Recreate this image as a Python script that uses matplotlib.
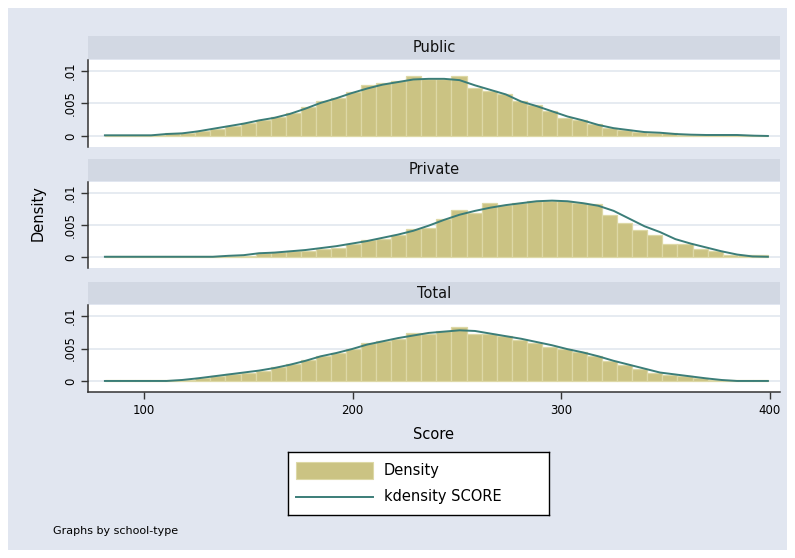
import numpy as np
import matplotlib
matplotlib.use("Agg")
import matplotlib.pyplot as plt
from matplotlib.patches import Rectangle

plt.rcParams['font.family'] = ['DejaVu Sans']

# ---------------- data ----------------
panels = ["Public", "Private", "Total"]
score_min = 81.3
score_max = 399.0
n_bins = 44

public_hist = [0.00015, 0.0001, 0.0001, 0.0001, 0.0004, 0.0004, 0.0007, 0.0011, 0.0015, 0.002,
               0.0025, 0.0029, 0.0036, 0.0044, 0.0054, 0.0059, 0.0067, 0.0079, 0.0082, 0.0085,
               0.0092, 0.0088, 0.0088, 0.0092, 0.0074, 0.007, 0.0064, 0.0054, 0.0047, 0.0039,
               0.0027, 0.0024, 0.0018, 0.0012, 0.0009, 0.0006, 0.0005, 0.0004, 0.0002, 0.0002,
               0.0002, 0.0002, 0.0001, 0.00005]
public_kde = [0.0001, 0.0001, 0.0001, 0.0001, 0.0003, 0.0004, 0.0007, 0.0011, 0.0015, 0.0019,
              0.0024, 0.0028, 0.0034, 0.0042, 0.0051, 0.0058, 0.0066, 0.0073, 0.0079, 0.0083,
              0.0087, 0.0088, 0.0088, 0.0086, 0.0078, 0.0071, 0.0064, 0.0053, 0.0046, 0.0038,
              0.003, 0.0024, 0.0017, 0.0012, 0.0009, 0.0006, 0.0005, 0.0003, 0.0002, 0.00015,
              0.00015, 0.00015, 0.00005, 0.0]

private_hist = [0.00015, 0.00015, 0.00015, 0.00015, 0.00015, 0.00015, 0.00015, 0.00015, 0.00015, 0.00015,
                0.0007, 0.0008, 0.001, 0.001, 0.0013, 0.0014, 0.002, 0.0026, 0.0028, 0.0035,
                0.0044, 0.0046, 0.006, 0.0073, 0.0068, 0.0084, 0.0081, 0.0085, 0.0087, 0.0088,
                0.0087, 0.0084, 0.0082, 0.0066, 0.0053, 0.0042, 0.0035, 0.0021, 0.002, 0.0013,
                0.001, 0.0003, 0.0003, 0.0003]
private_kde = [0.00005, 0.00005, 0.00005, 0.00005, 0.00005, 0.00005, 0.00005, 0.00005, 0.0002, 0.0003,
               0.0006, 0.0007, 0.0009, 0.0011, 0.0014, 0.0017, 0.0021, 0.0025, 0.003, 0.0035,
               0.0041, 0.0049, 0.0058, 0.0066, 0.0072, 0.0077, 0.0081, 0.0084, 0.0087, 0.0088,
               0.0087, 0.0084, 0.008, 0.0072, 0.006, 0.0048, 0.0039, 0.0028, 0.0021, 0.0015,
               0.0009, 0.0004, 0.0001, 0.00005]

total_hist = [0.0002, 0.0002, 0.0002, 0.0002, 0.00015, 0.00015, 0.0005, 0.0007, 0.0011, 0.0013,
              0.0016, 0.0021, 0.0026, 0.0032, 0.0039, 0.0043, 0.0049, 0.0058, 0.0061, 0.0065,
              0.0074, 0.0073, 0.0077, 0.0083, 0.0073, 0.0072, 0.0069, 0.0063, 0.0059, 0.0053,
              0.0049, 0.0044, 0.0039, 0.0031, 0.0024, 0.0019, 0.0013, 0.0009, 0.0007, 0.0005,
              0.00015, 0.0002, 0.0002, 0.0002]
total_kde = [0.0, 0.0, 0.0, 0.0, 0.0, 0.00015, 0.0004, 0.0007, 0.001, 0.0013,
             0.0016, 0.002, 0.0025, 0.0031, 0.0038, 0.0043, 0.0049, 0.0056, 0.0061, 0.0066,
             0.007, 0.0074, 0.0076, 0.0078, 0.0077, 0.0073, 0.0069, 0.0065, 0.006, 0.0055,
             0.0049, 0.0044, 0.0038, 0.0031, 0.0025, 0.0019, 0.0013, 0.001, 0.0007, 0.0004,
             0.00015, 0.0, 0.0, 0.0]

hists = [public_hist, private_hist, total_hist]
kdes = [public_kde, private_kde, total_kde]

x_ticks = [100, 200, 300, 400]
y_ticks = [0, 0.005, 0.01]
y_ticklabels = ["0", ".005", ".01"]
legend_labels = ["Density", "kdensity SCORE"]

# ---------------- style ----------------
W, H = 795, 558
BG = "#E1E6F0"
STRIP = "#D2D8E3"
GRID = "#E2E7EF"
BAR = "#CBC383"
BAR_EDGE = "#DDD8A6"
LINE = "#3B7D78"
AXC = "#333333"

fig = plt.figure(figsize=(W / 100, H / 100), dpi=100)
fig.patch.set_facecolor("white")
bg_ax = fig.add_axes([8 / W, 8 / H, (W - 16) / W, (H - 16) / H], zorder=-10)
bg_ax.set_facecolor(BG)
bg_ax.set_xticks([]); bg_ax.set_yticks([])
for sp in bg_ax.spines.values():
    sp.set_visible(False)


def rect(x0, y0, x1, y1):
    return [x0 / W, 1 - y1 / H, (x1 - x0) / W, (y1 - y0) / H]


edges = np.linspace(score_min, score_max, n_bins + 1)
width = edges[1] - edges[0]

PX0, PX1 = 88, 780
layout = [(36, 59, 60, 147), (159, 181, 182, 268), (282, 304, 305, 392)]
xlim = (73.2, 404.8)
ylim = (-0.0017, 0.0117)

for k, (s0, s1, p0, p1) in enumerate(layout):
    sax = fig.add_axes(rect(PX0, s0, PX1, s1))
    sax.set_facecolor(STRIP)
    sax.set_xticks([]); sax.set_yticks([])
    for sp in sax.spines.values():
        sp.set_visible(False)
    sax.text(0.5, 0.5, panels[k], ha="center", va="center", fontsize=10.5, color="#111111",
             transform=sax.transAxes)

    ax = fig.add_axes(rect(PX0, p0, PX1, p1))
    ax.set_facecolor("white")
    ax.set_xlim(*xlim); ax.set_ylim(*ylim)
    for y in y_ticks:
        ax.axhline(y, color=GRID, lw=1.2, zorder=0)
    ax.bar(edges[:-1], hists[k], width=width, align="edge", color=BAR,
           edgecolor=BAR_EDGE, linewidth=0.9, zorder=2)
    kx = np.linspace(score_min, score_max, len(kdes[k]))
    ax.plot(kx, kdes[k], color=LINE, lw=1.4, zorder=3)
    ax.set_yticks(y_ticks)
    ax.set_yticklabels(y_ticklabels, rotation=90, va="center", fontsize=8.5)
    ax.tick_params(axis="y", length=5, width=1, color=AXC, pad=3)
    for name in ["top", "right"]:
        ax.spines[name].set_visible(False)
    ax.spines["left"].set_color(AXC)
    ax.spines["left"].set_linewidth(1.1)
    if k < 2:
        ax.spines["bottom"].set_visible(False)
        ax.set_xticks([])
    else:
        ax.spines["bottom"].set_color(AXC)
        ax.spines["bottom"].set_linewidth(1.1)
        ax.set_xticks(x_ticks)
        ax.set_xticklabels([str(t) for t in x_ticks], fontsize=8.5)
        ax.tick_params(axis="x", length=5, width=1, color=AXC, pad=4)
        ax.set_xlabel("Score", fontsize=10.5, labelpad=7)

fig.text(38 / W, 1 - 213 / H, "Density", rotation=90, ha="center", va="center", fontsize=10.5)

# legend box drawn in its own axes (pixel coordinates)
lx0, ly0, lx1, ly1 = 288, 452, 549, 515
lax = fig.add_axes(rect(lx0, ly0, lx1, ly1))
lax.set_xlim(0, lx1 - lx0); lax.set_ylim(ly1 - ly0, 0)
lax.set_facecolor("white")
lax.set_xticks([]); lax.set_yticks([])
for sp in lax.spines.values():
    sp.set_color("black"); sp.set_linewidth(1.0)
lax.add_patch(Rectangle((8, 10), 77, 17, facecolor=BAR, edgecolor=BAR_EDGE, linewidth=0.8))
lax.plot([8, 85], [44.5, 44.5], color=LINE, lw=1.4)
lax.text(96, 18.5, legend_labels[0], ha="left", va="center", fontsize=10.5)
lax.text(96, 44.5, legend_labels[1], ha="left", va="center", fontsize=10.5)

fig.text(53 / W, 1 - 531 / H, "Graphs by school-type", ha="left", va="center", fontsize=8)

fig.savefig("out.png", dpi=100, facecolor=fig.get_facecolor())
